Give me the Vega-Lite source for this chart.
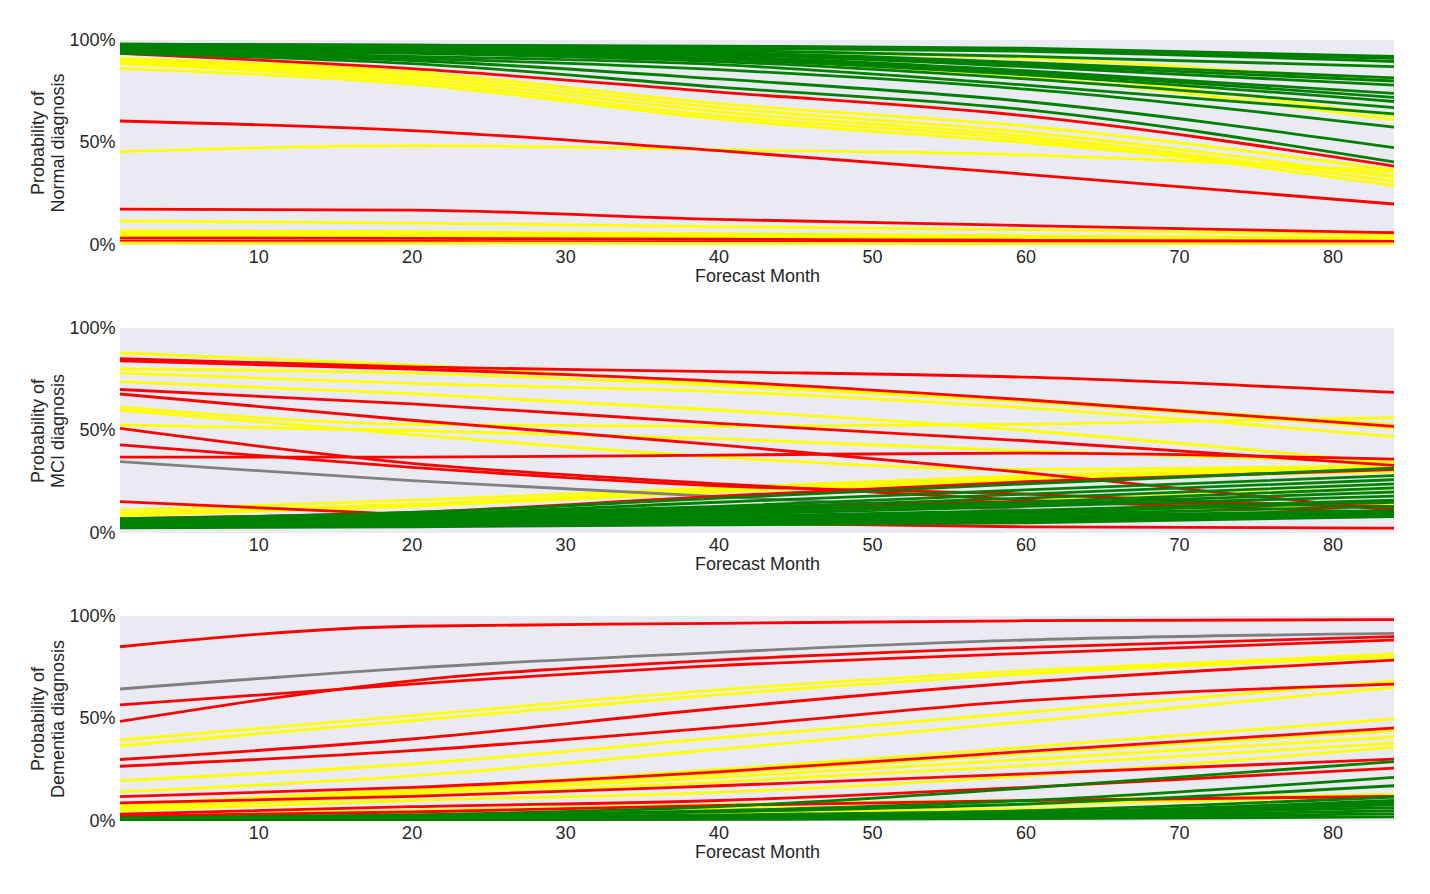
{
  "$schema": "https://vega.github.io/schema/vega-lite/v6.json",
  "background": "white",
  "padding": {"left": 29, "top": 31, "right": 30, "bottom": 5},
  "config": {
    "font": "Liberation Sans",
    "view": {"fill": "#EAEAF2", "stroke": null},
    "axis": {
      "domain": false, "ticks": false, "grid": false,
      "labelFontSize": 18, "titleFontSize": 18,
      "labelColor": "#262626", "titleColor": "#262626",
      "titleFontWeight": "normal", "labelPadding": 3, "titlePadding": 1
    },
    "axisY": {"labelPadding": 5}
  },
  "data": {"values": [
    {"p":"N","id":"y1","dx":"MCI","m":1,"v":97.5},{"p":"N","id":"y1","dx":"MCI","m":20,"v":97},{"p":"N","id":"y1","dx":"MCI","m":40,"v":95},{"p":"N","id":"y1","dx":"MCI","m":60,"v":91},{"p":"N","id":"y1","dx":"MCI","m":84,"v":80},
    {"p":"N","id":"y2","dx":"MCI","m":1,"v":97},{"p":"N","id":"y2","dx":"MCI","m":20,"v":95.5},{"p":"N","id":"y2","dx":"MCI","m":40,"v":92},{"p":"N","id":"y2","dx":"MCI","m":60,"v":84},{"p":"N","id":"y2","dx":"MCI","m":84,"v":63},
    {"p":"N","id":"y3","dx":"MCI","m":1,"v":96.5},{"p":"N","id":"y3","dx":"MCI","m":20,"v":94},{"p":"N","id":"y3","dx":"MCI","m":40,"v":90},{"p":"N","id":"y3","dx":"MCI","m":60,"v":82},{"p":"N","id":"y3","dx":"MCI","m":84,"v":61},
    {"p":"N","id":"y4","dx":"MCI","m":1,"v":91},{"p":"N","id":"y4","dx":"MCI","m":20,"v":84.5},{"p":"N","id":"y4","dx":"MCI","m":40,"v":69},{"p":"N","id":"y4","dx":"MCI","m":60,"v":58},{"p":"N","id":"y4","dx":"MCI","m":84,"v":36.5},
    {"p":"N","id":"y5","dx":"MCI","m":1,"v":90},{"p":"N","id":"y5","dx":"MCI","m":20,"v":83},{"p":"N","id":"y5","dx":"MCI","m":40,"v":67},{"p":"N","id":"y5","dx":"MCI","m":60,"v":55},{"p":"N","id":"y5","dx":"MCI","m":84,"v":33},
    {"p":"N","id":"y6","dx":"MCI","m":1,"v":89.5},{"p":"N","id":"y6","dx":"MCI","m":20,"v":81.5},{"p":"N","id":"y6","dx":"MCI","m":40,"v":65},{"p":"N","id":"y6","dx":"MCI","m":60,"v":53},{"p":"N","id":"y6","dx":"MCI","m":84,"v":31},
    {"p":"N","id":"y7","dx":"MCI","m":1,"v":88.5},{"p":"N","id":"y7","dx":"MCI","m":20,"v":80},{"p":"N","id":"y7","dx":"MCI","m":40,"v":63},{"p":"N","id":"y7","dx":"MCI","m":60,"v":51.5},{"p":"N","id":"y7","dx":"MCI","m":84,"v":29},
    {"p":"N","id":"y8","dx":"MCI","m":1,"v":86},{"p":"N","id":"y8","dx":"MCI","m":20,"v":78.5},{"p":"N","id":"y8","dx":"MCI","m":40,"v":61.5},{"p":"N","id":"y8","dx":"MCI","m":60,"v":50},{"p":"N","id":"y8","dx":"MCI","m":84,"v":34},
    {"p":"N","id":"y9","dx":"MCI","m":1,"v":45.5},{"p":"N","id":"y9","dx":"MCI","m":20,"v":48.5},{"p":"N","id":"y9","dx":"MCI","m":40,"v":46.5},{"p":"N","id":"y9","dx":"MCI","m":60,"v":44},{"p":"N","id":"y9","dx":"MCI","m":84,"v":36},
    {"p":"N","id":"y10","dx":"MCI","m":1,"v":11.7},{"p":"N","id":"y10","dx":"MCI","m":20,"v":10.7},{"p":"N","id":"y10","dx":"MCI","m":40,"v":9},{"p":"N","id":"y10","dx":"MCI","m":60,"v":7.5},{"p":"N","id":"y10","dx":"MCI","m":84,"v":5},
    {"p":"N","id":"y11","dx":"MCI","m":1,"v":7},{"p":"N","id":"y11","dx":"MCI","m":20,"v":6.5},{"p":"N","id":"y11","dx":"MCI","m":40,"v":5.5},{"p":"N","id":"y11","dx":"MCI","m":60,"v":4.5},{"p":"N","id":"y11","dx":"MCI","m":84,"v":3.5},
    {"p":"N","id":"y12","dx":"MCI","m":1,"v":6},{"p":"N","id":"y12","dx":"MCI","m":20,"v":5.5},{"p":"N","id":"y12","dx":"MCI","m":40,"v":4.5},{"p":"N","id":"y12","dx":"MCI","m":60,"v":3.8},{"p":"N","id":"y12","dx":"MCI","m":84,"v":2.8},
    {"p":"N","id":"y13","dx":"MCI","m":1,"v":5},{"p":"N","id":"y13","dx":"MCI","m":20,"v":4.5},{"p":"N","id":"y13","dx":"MCI","m":40,"v":3.8},{"p":"N","id":"y13","dx":"MCI","m":60,"v":3},{"p":"N","id":"y13","dx":"MCI","m":84,"v":2.2},
    {"p":"N","id":"y14","dx":"MCI","m":1,"v":4.2},{"p":"N","id":"y14","dx":"MCI","m":20,"v":4},{"p":"N","id":"y14","dx":"MCI","m":40,"v":3.2},{"p":"N","id":"y14","dx":"MCI","m":60,"v":2.6},{"p":"N","id":"y14","dx":"MCI","m":84,"v":1.8},
    {"p":"N","id":"r4","dx":"AD","m":1,"v":3.4},{"p":"N","id":"r4","dx":"AD","m":20,"v":3.2},{"p":"N","id":"r4","dx":"AD","m":40,"v":2.8},{"p":"N","id":"r4","dx":"AD","m":60,"v":2.3},{"p":"N","id":"r4","dx":"AD","m":84,"v":1.8},
    {"p":"N","id":"r5","dx":"AD","m":1,"v":1.8},{"p":"N","id":"r5","dx":"AD","m":20,"v":1.7},{"p":"N","id":"r5","dx":"AD","m":40,"v":1.5},{"p":"N","id":"r5","dx":"AD","m":60,"v":1.3},{"p":"N","id":"r5","dx":"AD","m":84,"v":1.1},
    {"p":"N","id":"y15","dx":"MCI","m":1,"v":1},{"p":"N","id":"y15","dx":"MCI","m":20,"v":0.9},{"p":"N","id":"y15","dx":"MCI","m":40,"v":0.8},{"p":"N","id":"y15","dx":"MCI","m":60,"v":0.7},{"p":"N","id":"y15","dx":"MCI","m":84,"v":0.5},
    {"p":"N","id":"r1","dx":"AD","m":1,"v":93.5},{"p":"N","id":"r1","dx":"AD","m":20,"v":86},{"p":"N","id":"r1","dx":"AD","m":40,"v":74.6},{"p":"N","id":"r1","dx":"AD","m":60,"v":63},{"p":"N","id":"r1","dx":"AD","m":84,"v":38.5},
    {"p":"N","id":"r2","dx":"AD","m":1,"v":60.5},{"p":"N","id":"r2","dx":"AD","m":20,"v":55.8},{"p":"N","id":"r2","dx":"AD","m":40,"v":46},{"p":"N","id":"r2","dx":"AD","m":60,"v":34.5},{"p":"N","id":"r2","dx":"AD","m":84,"v":20},
    {"p":"N","id":"r3","dx":"AD","m":1,"v":17.5},{"p":"N","id":"r3","dx":"AD","m":20,"v":17},{"p":"N","id":"r3","dx":"AD","m":40,"v":12.5},{"p":"N","id":"r3","dx":"AD","m":60,"v":9.5},{"p":"N","id":"r3","dx":"AD","m":84,"v":6},
    {"p":"N","id":"g1","dx":"CN","m":1,"v":98},{"p":"N","id":"g1","dx":"CN","m":20,"v":97.5},{"p":"N","id":"g1","dx":"CN","m":40,"v":97},{"p":"N","id":"g1","dx":"CN","m":60,"v":96},{"p":"N","id":"g1","dx":"CN","m":84,"v":92},
    {"p":"N","id":"g2","dx":"CN","m":1,"v":98},{"p":"N","id":"g2","dx":"CN","m":20,"v":97.5},{"p":"N","id":"g2","dx":"CN","m":40,"v":96.5},{"p":"N","id":"g2","dx":"CN","m":60,"v":95},{"p":"N","id":"g2","dx":"CN","m":84,"v":91},
    {"p":"N","id":"g3","dx":"CN","m":1,"v":97.5},{"p":"N","id":"g3","dx":"CN","m":20,"v":97},{"p":"N","id":"g3","dx":"CN","m":40,"v":96},{"p":"N","id":"g3","dx":"CN","m":60,"v":94.5},{"p":"N","id":"g3","dx":"CN","m":84,"v":89.5},
    {"p":"N","id":"g4","dx":"CN","m":1,"v":97.5},{"p":"N","id":"g4","dx":"CN","m":20,"v":96.5},{"p":"N","id":"g4","dx":"CN","m":40,"v":95},{"p":"N","id":"g4","dx":"CN","m":60,"v":92},{"p":"N","id":"g4","dx":"CN","m":84,"v":87},
    {"p":"N","id":"g5","dx":"CN","m":1,"v":97},{"p":"N","id":"g5","dx":"CN","m":20,"v":96},{"p":"N","id":"g5","dx":"CN","m":40,"v":94},{"p":"N","id":"g5","dx":"CN","m":60,"v":89},{"p":"N","id":"g5","dx":"CN","m":84,"v":81.5},
    {"p":"N","id":"g6","dx":"CN","m":1,"v":97},{"p":"N","id":"g6","dx":"CN","m":20,"v":96},{"p":"N","id":"g6","dx":"CN","m":40,"v":93.5},{"p":"N","id":"g6","dx":"CN","m":60,"v":88},{"p":"N","id":"g6","dx":"CN","m":84,"v":80},
    {"p":"N","id":"g7","dx":"CN","m":1,"v":96.5},{"p":"N","id":"g7","dx":"CN","m":20,"v":95.5},{"p":"N","id":"g7","dx":"CN","m":40,"v":93},{"p":"N","id":"g7","dx":"CN","m":60,"v":87},{"p":"N","id":"g7","dx":"CN","m":84,"v":78},
    {"p":"N","id":"g8","dx":"CN","m":1,"v":96},{"p":"N","id":"g8","dx":"CN","m":20,"v":95},{"p":"N","id":"g8","dx":"CN","m":40,"v":92},{"p":"N","id":"g8","dx":"CN","m":60,"v":85},{"p":"N","id":"g8","dx":"CN","m":84,"v":74},
    {"p":"N","id":"g9","dx":"CN","m":1,"v":96},{"p":"N","id":"g9","dx":"CN","m":20,"v":94.5},{"p":"N","id":"g9","dx":"CN","m":40,"v":91},{"p":"N","id":"g9","dx":"CN","m":60,"v":84},{"p":"N","id":"g9","dx":"CN","m":84,"v":72},
    {"p":"N","id":"g10","dx":"CN","m":1,"v":95.5},{"p":"N","id":"g10","dx":"CN","m":20,"v":94},{"p":"N","id":"g10","dx":"CN","m":40,"v":90.5},{"p":"N","id":"g10","dx":"CN","m":60,"v":83},{"p":"N","id":"g10","dx":"CN","m":84,"v":70},
    {"p":"N","id":"g11","dx":"CN","m":1,"v":95},{"p":"N","id":"g11","dx":"CN","m":20,"v":93.5},{"p":"N","id":"g11","dx":"CN","m":40,"v":89.5},{"p":"N","id":"g11","dx":"CN","m":60,"v":81},{"p":"N","id":"g11","dx":"CN","m":84,"v":67},
    {"p":"N","id":"g12","dx":"CN","m":1,"v":95},{"p":"N","id":"g12","dx":"CN","m":20,"v":92},{"p":"N","id":"g12","dx":"CN","m":40,"v":88},{"p":"N","id":"g12","dx":"CN","m":60,"v":78},{"p":"N","id":"g12","dx":"CN","m":84,"v":64},
    {"p":"N","id":"g13","dx":"CN","m":1,"v":94},{"p":"N","id":"g13","dx":"CN","m":20,"v":91},{"p":"N","id":"g13","dx":"CN","m":40,"v":85.5},{"p":"N","id":"g13","dx":"CN","m":60,"v":76},{"p":"N","id":"g13","dx":"CN","m":84,"v":57.5},
    {"p":"N","id":"g14","dx":"CN","m":1,"v":94},{"p":"N","id":"g14","dx":"CN","m":20,"v":90},{"p":"N","id":"g14","dx":"CN","m":40,"v":81},{"p":"N","id":"g14","dx":"CN","m":60,"v":70},{"p":"N","id":"g14","dx":"CN","m":84,"v":47.5},
    {"p":"N","id":"g15","dx":"CN","m":1,"v":93.5},{"p":"N","id":"g15","dx":"CN","m":20,"v":88.5},{"p":"N","id":"g15","dx":"CN","m":40,"v":77},{"p":"N","id":"g15","dx":"CN","m":60,"v":66},{"p":"N","id":"g15","dx":"CN","m":84,"v":40.5},

    {"p":"M","id":"y1","dx":"MCI","m":1,"v":87.8},{"p":"M","id":"y1","dx":"MCI","m":20,"v":82},{"p":"M","id":"y1","dx":"MCI","m":40,"v":73},{"p":"M","id":"y1","dx":"MCI","m":60,"v":65},{"p":"M","id":"y1","dx":"MCI","m":84,"v":52.7},
    {"p":"M","id":"y2","dx":"MCI","m":1,"v":80},{"p":"M","id":"y2","dx":"MCI","m":20,"v":78},{"p":"M","id":"y2","dx":"MCI","m":40,"v":72},{"p":"M","id":"y2","dx":"MCI","m":60,"v":64},{"p":"M","id":"y2","dx":"MCI","m":84,"v":51.2},
    {"p":"M","id":"y3","dx":"MCI","m":1,"v":78},{"p":"M","id":"y3","dx":"MCI","m":20,"v":73},{"p":"M","id":"y3","dx":"MCI","m":40,"v":69},{"p":"M","id":"y3","dx":"MCI","m":60,"v":61},{"p":"M","id":"y3","dx":"MCI","m":84,"v":47},
    {"p":"M","id":"y4","dx":"MCI","m":1,"v":73.8},{"p":"M","id":"y4","dx":"MCI","m":20,"v":68},{"p":"M","id":"y4","dx":"MCI","m":40,"v":60},{"p":"M","id":"y4","dx":"MCI","m":60,"v":50},{"p":"M","id":"y4","dx":"MCI","m":84,"v":34},
    {"p":"M","id":"y5","dx":"MCI","m":1,"v":61.5},{"p":"M","id":"y5","dx":"MCI","m":20,"v":53},{"p":"M","id":"y5","dx":"MCI","m":40,"v":52},{"p":"M","id":"y5","dx":"MCI","m":60,"v":53},{"p":"M","id":"y5","dx":"MCI","m":84,"v":56.3},
    {"p":"M","id":"y6","dx":"MCI","m":1,"v":60},{"p":"M","id":"y6","dx":"MCI","m":20,"v":48},{"p":"M","id":"y6","dx":"MCI","m":40,"v":37},{"p":"M","id":"y6","dx":"MCI","m":60,"v":31},{"p":"M","id":"y6","dx":"MCI","m":84,"v":33},
    {"p":"M","id":"y7","dx":"MCI","m":1,"v":52.7},{"p":"M","id":"y7","dx":"MCI","m":20,"v":50},{"p":"M","id":"y7","dx":"MCI","m":40,"v":46},{"p":"M","id":"y7","dx":"MCI","m":60,"v":40},{"p":"M","id":"y7","dx":"MCI","m":84,"v":34.5},
    {"p":"M","id":"y8","dx":"MCI","m":1,"v":11},{"p":"M","id":"y8","dx":"MCI","m":20,"v":16},{"p":"M","id":"y8","dx":"MCI","m":40,"v":22},{"p":"M","id":"y8","dx":"MCI","m":60,"v":28},{"p":"M","id":"y8","dx":"MCI","m":84,"v":33},
    {"p":"M","id":"y9","dx":"MCI","m":1,"v":9.5},{"p":"M","id":"y9","dx":"MCI","m":20,"v":14},{"p":"M","id":"y9","dx":"MCI","m":40,"v":21},{"p":"M","id":"y9","dx":"MCI","m":60,"v":27},{"p":"M","id":"y9","dx":"MCI","m":84,"v":32},
    {"p":"M","id":"y10","dx":"MCI","m":1,"v":8.5},{"p":"M","id":"y10","dx":"MCI","m":20,"v":13},{"p":"M","id":"y10","dx":"MCI","m":40,"v":20},{"p":"M","id":"y10","dx":"MCI","m":60,"v":26},{"p":"M","id":"y10","dx":"MCI","m":84,"v":30},
    {"p":"M","id":"y11","dx":"MCI","m":1,"v":6},{"p":"M","id":"y11","dx":"MCI","m":20,"v":8},{"p":"M","id":"y11","dx":"MCI","m":40,"v":12},{"p":"M","id":"y11","dx":"MCI","m":60,"v":16},{"p":"M","id":"y11","dx":"MCI","m":84,"v":22},
    {"p":"M","id":"y12","dx":"MCI","m":1,"v":5},{"p":"M","id":"y12","dx":"MCI","m":20,"v":6},{"p":"M","id":"y12","dx":"MCI","m":40,"v":8},{"p":"M","id":"y12","dx":"MCI","m":60,"v":10},{"p":"M","id":"y12","dx":"MCI","m":84,"v":14},
    {"p":"M","id":"x1","dx":"NA","m":1,"v":34.8},{"p":"M","id":"x1","dx":"NA","m":20,"v":25.5},{"p":"M","id":"x1","dx":"NA","m":40,"v":17.7},{"p":"M","id":"x1","dx":"NA","m":60,"v":11.2},{"p":"M","id":"x1","dx":"NA","m":84,"v":8},
    {"p":"M","id":"r1","dx":"AD","m":1,"v":85},{"p":"M","id":"r1","dx":"AD","m":20,"v":81},{"p":"M","id":"r1","dx":"AD","m":40,"v":78.7},{"p":"M","id":"r1","dx":"AD","m":60,"v":76},{"p":"M","id":"r1","dx":"AD","m":84,"v":68.6},
    {"p":"M","id":"r2","dx":"AD","m":1,"v":84},{"p":"M","id":"r2","dx":"AD","m":20,"v":80},{"p":"M","id":"r2","dx":"AD","m":40,"v":74},{"p":"M","id":"r2","dx":"AD","m":60,"v":65},{"p":"M","id":"r2","dx":"AD","m":84,"v":52},
    {"p":"M","id":"r3","dx":"AD","m":1,"v":70},{"p":"M","id":"r3","dx":"AD","m":20,"v":63},{"p":"M","id":"r3","dx":"AD","m":40,"v":53.5},{"p":"M","id":"r3","dx":"AD","m":60,"v":45},{"p":"M","id":"r3","dx":"AD","m":84,"v":33},
    {"p":"M","id":"r4","dx":"AD","m":1,"v":67.8},{"p":"M","id":"r4","dx":"AD","m":20,"v":55},{"p":"M","id":"r4","dx":"AD","m":40,"v":43},{"p":"M","id":"r4","dx":"AD","m":60,"v":29.5},{"p":"M","id":"r4","dx":"AD","m":84,"v":11},
    {"p":"M","id":"r5","dx":"AD","m":1,"v":37},{"p":"M","id":"r5","dx":"AD","m":20,"v":37},{"p":"M","id":"r5","dx":"AD","m":40,"v":38},{"p":"M","id":"r5","dx":"AD","m":60,"v":39},{"p":"M","id":"r5","dx":"AD","m":84,"v":36},
    {"p":"M","id":"r6","dx":"AD","m":1,"v":51},{"p":"M","id":"r6","dx":"AD","m":20,"v":34},{"p":"M","id":"r6","dx":"AD","m":40,"v":24},{"p":"M","id":"r6","dx":"AD","m":60,"v":16},{"p":"M","id":"r6","dx":"AD","m":84,"v":10},
    {"p":"M","id":"r7","dx":"AD","m":1,"v":43},{"p":"M","id":"r7","dx":"AD","m":20,"v":32},{"p":"M","id":"r7","dx":"AD","m":40,"v":23},{"p":"M","id":"r7","dx":"AD","m":60,"v":19},{"p":"M","id":"r7","dx":"AD","m":84,"v":12},
    {"p":"M","id":"r8","dx":"AD","m":1,"v":15.3},{"p":"M","id":"r8","dx":"AD","m":20,"v":9},{"p":"M","id":"r8","dx":"AD","m":40,"v":5},{"p":"M","id":"r8","dx":"AD","m":60,"v":3},{"p":"M","id":"r8","dx":"AD","m":84,"v":2.4},
    {"p":"M","id":"r9","dx":"AD","m":1,"v":7},{"p":"M","id":"r9","dx":"AD","m":20,"v":10},{"p":"M","id":"r9","dx":"AD","m":40,"v":18},{"p":"M","id":"r9","dx":"AD","m":60,"v":25},{"p":"M","id":"r9","dx":"AD","m":84,"v":31},
    {"p":"M","id":"r10","dx":"AD","m":1,"v":6},{"p":"M","id":"r10","dx":"AD","m":20,"v":7},{"p":"M","id":"r10","dx":"AD","m":40,"v":12},{"p":"M","id":"r10","dx":"AD","m":60,"v":15},{"p":"M","id":"r10","dx":"AD","m":84,"v":13},
    {"p":"M","id":"g1","dx":"CN","m":1,"v":7},{"p":"M","id":"g1","dx":"CN","m":20,"v":10},{"p":"M","id":"g1","dx":"CN","m":40,"v":17},{"p":"M","id":"g1","dx":"CN","m":60,"v":24},{"p":"M","id":"g1","dx":"CN","m":84,"v":31.7},
    {"p":"M","id":"g2","dx":"CN","m":1,"v":6.5},{"p":"M","id":"g2","dx":"CN","m":20,"v":9},{"p":"M","id":"g2","dx":"CN","m":40,"v":15},{"p":"M","id":"g2","dx":"CN","m":60,"v":21},{"p":"M","id":"g2","dx":"CN","m":84,"v":28},
    {"p":"M","id":"g3","dx":"CN","m":1,"v":6},{"p":"M","id":"g3","dx":"CN","m":20,"v":8.5},{"p":"M","id":"g3","dx":"CN","m":40,"v":13},{"p":"M","id":"g3","dx":"CN","m":60,"v":19},{"p":"M","id":"g3","dx":"CN","m":84,"v":26},
    {"p":"M","id":"g4","dx":"CN","m":1,"v":6},{"p":"M","id":"g4","dx":"CN","m":20,"v":8},{"p":"M","id":"g4","dx":"CN","m":40,"v":12},{"p":"M","id":"g4","dx":"CN","m":60,"v":17},{"p":"M","id":"g4","dx":"CN","m":84,"v":24},
    {"p":"M","id":"g5","dx":"CN","m":1,"v":5.5},{"p":"M","id":"g5","dx":"CN","m":20,"v":7.5},{"p":"M","id":"g5","dx":"CN","m":40,"v":11},{"p":"M","id":"g5","dx":"CN","m":60,"v":15},{"p":"M","id":"g5","dx":"CN","m":84,"v":22},
    {"p":"M","id":"g6","dx":"CN","m":1,"v":5},{"p":"M","id":"g6","dx":"CN","m":20,"v":7},{"p":"M","id":"g6","dx":"CN","m":40,"v":10},{"p":"M","id":"g6","dx":"CN","m":60,"v":14},{"p":"M","id":"g6","dx":"CN","m":84,"v":20},
    {"p":"M","id":"g7","dx":"CN","m":1,"v":5},{"p":"M","id":"g7","dx":"CN","m":20,"v":6.5},{"p":"M","id":"g7","dx":"CN","m":40,"v":9},{"p":"M","id":"g7","dx":"CN","m":60,"v":13},{"p":"M","id":"g7","dx":"CN","m":84,"v":18},
    {"p":"M","id":"g8","dx":"CN","m":1,"v":4.5},{"p":"M","id":"g8","dx":"CN","m":20,"v":6},{"p":"M","id":"g8","dx":"CN","m":40,"v":8},{"p":"M","id":"g8","dx":"CN","m":60,"v":11},{"p":"M","id":"g8","dx":"CN","m":84,"v":16},
    {"p":"M","id":"g9","dx":"CN","m":1,"v":4},{"p":"M","id":"g9","dx":"CN","m":20,"v":5.5},{"p":"M","id":"g9","dx":"CN","m":40,"v":7.5},{"p":"M","id":"g9","dx":"CN","m":60,"v":10},{"p":"M","id":"g9","dx":"CN","m":84,"v":15},
    {"p":"M","id":"g10","dx":"CN","m":1,"v":4},{"p":"M","id":"g10","dx":"CN","m":20,"v":5},{"p":"M","id":"g10","dx":"CN","m":40,"v":7},{"p":"M","id":"g10","dx":"CN","m":60,"v":9},{"p":"M","id":"g10","dx":"CN","m":84,"v":13},
    {"p":"M","id":"g11","dx":"CN","m":1,"v":3.5},{"p":"M","id":"g11","dx":"CN","m":20,"v":4.5},{"p":"M","id":"g11","dx":"CN","m":40,"v":6},{"p":"M","id":"g11","dx":"CN","m":60,"v":8},{"p":"M","id":"g11","dx":"CN","m":84,"v":11},
    {"p":"M","id":"g12","dx":"CN","m":1,"v":3},{"p":"M","id":"g12","dx":"CN","m":20,"v":4},{"p":"M","id":"g12","dx":"CN","m":40,"v":5},{"p":"M","id":"g12","dx":"CN","m":60,"v":7},{"p":"M","id":"g12","dx":"CN","m":84,"v":10},
    {"p":"M","id":"g13","dx":"CN","m":1,"v":3},{"p":"M","id":"g13","dx":"CN","m":20,"v":3.5},{"p":"M","id":"g13","dx":"CN","m":40,"v":4.5},{"p":"M","id":"g13","dx":"CN","m":60,"v":6},{"p":"M","id":"g13","dx":"CN","m":84,"v":9},
    {"p":"M","id":"g14","dx":"CN","m":1,"v":2.5},{"p":"M","id":"g14","dx":"CN","m":20,"v":3},{"p":"M","id":"g14","dx":"CN","m":40,"v":4},{"p":"M","id":"g14","dx":"CN","m":60,"v":5},{"p":"M","id":"g14","dx":"CN","m":84,"v":8},

    {"p":"D","id":"y1","dx":"MCI","m":1,"v":39.5},{"p":"D","id":"y1","dx":"MCI","m":20,"v":51.4},{"p":"D","id":"y1","dx":"MCI","m":40,"v":64},{"p":"D","id":"y1","dx":"MCI","m":60,"v":73.3},{"p":"D","id":"y1","dx":"MCI","m":84,"v":81.5},
    {"p":"D","id":"y2","dx":"MCI","m":1,"v":36.7},{"p":"D","id":"y2","dx":"MCI","m":20,"v":49},{"p":"D","id":"y2","dx":"MCI","m":40,"v":61.6},{"p":"D","id":"y2","dx":"MCI","m":60,"v":71.7},{"p":"D","id":"y2","dx":"MCI","m":84,"v":80},
    {"p":"D","id":"y3","dx":"MCI","m":1,"v":19.7},{"p":"D","id":"y3","dx":"MCI","m":20,"v":27.8},{"p":"D","id":"y3","dx":"MCI","m":40,"v":40.5},{"p":"D","id":"y3","dx":"MCI","m":60,"v":53},{"p":"D","id":"y3","dx":"MCI","m":84,"v":68.4},
    {"p":"D","id":"y4","dx":"MCI","m":1,"v":14.3},{"p":"D","id":"y4","dx":"MCI","m":20,"v":22},{"p":"D","id":"y4","dx":"MCI","m":40,"v":35},{"p":"D","id":"y4","dx":"MCI","m":60,"v":48.4},{"p":"D","id":"y4","dx":"MCI","m":84,"v":65.2},
    {"p":"D","id":"y5","dx":"MCI","m":1,"v":8},{"p":"D","id":"y5","dx":"MCI","m":20,"v":15.5},{"p":"D","id":"y5","dx":"MCI","m":40,"v":25},{"p":"D","id":"y5","dx":"MCI","m":60,"v":36},{"p":"D","id":"y5","dx":"MCI","m":84,"v":49.8},
    {"p":"D","id":"y6","dx":"MCI","m":1,"v":7.5},{"p":"D","id":"y6","dx":"MCI","m":20,"v":14.5},{"p":"D","id":"y6","dx":"MCI","m":40,"v":23},{"p":"D","id":"y6","dx":"MCI","m":60,"v":33},{"p":"D","id":"y6","dx":"MCI","m":84,"v":44},
    {"p":"D","id":"y7","dx":"MCI","m":1,"v":7},{"p":"D","id":"y7","dx":"MCI","m":20,"v":13.5},{"p":"D","id":"y7","dx":"MCI","m":40,"v":21.3},{"p":"D","id":"y7","dx":"MCI","m":60,"v":30},{"p":"D","id":"y7","dx":"MCI","m":84,"v":41},
    {"p":"D","id":"y8","dx":"MCI","m":1,"v":6},{"p":"D","id":"y8","dx":"MCI","m":20,"v":12},{"p":"D","id":"y8","dx":"MCI","m":40,"v":19},{"p":"D","id":"y8","dx":"MCI","m":60,"v":27},{"p":"D","id":"y8","dx":"MCI","m":84,"v":38},
    {"p":"D","id":"y9","dx":"MCI","m":1,"v":5},{"p":"D","id":"y9","dx":"MCI","m":20,"v":10},{"p":"D","id":"y9","dx":"MCI","m":40,"v":14},{"p":"D","id":"y9","dx":"MCI","m":60,"v":22},{"p":"D","id":"y9","dx":"MCI","m":84,"v":36},
    {"p":"D","id":"y10","dx":"MCI","m":1,"v":3},{"p":"D","id":"y10","dx":"MCI","m":20,"v":5},{"p":"D","id":"y10","dx":"MCI","m":40,"v":8},{"p":"D","id":"y10","dx":"MCI","m":60,"v":10},{"p":"D","id":"y10","dx":"MCI","m":84,"v":13},
    {"p":"D","id":"y11","dx":"MCI","m":1,"v":2.5},{"p":"D","id":"y11","dx":"MCI","m":20,"v":4},{"p":"D","id":"y11","dx":"MCI","m":40,"v":6},{"p":"D","id":"y11","dx":"MCI","m":60,"v":8},{"p":"D","id":"y11","dx":"MCI","m":84,"v":12},
    {"p":"D","id":"y12","dx":"MCI","m":1,"v":2},{"p":"D","id":"y12","dx":"MCI","m":20,"v":3},{"p":"D","id":"y12","dx":"MCI","m":40,"v":4},{"p":"D","id":"y12","dx":"MCI","m":60,"v":5.9},{"p":"D","id":"y12","dx":"MCI","m":84,"v":8},
    {"p":"D","id":"x1","dx":"NA","m":1,"v":64.4},{"p":"D","id":"x1","dx":"NA","m":20,"v":74.6},{"p":"D","id":"x1","dx":"NA","m":40,"v":82.3},{"p":"D","id":"x1","dx":"NA","m":60,"v":88.3},{"p":"D","id":"x1","dx":"NA","m":84,"v":91.5},
    {"p":"D","id":"r1","dx":"AD","m":1,"v":85},{"p":"D","id":"r1","dx":"AD","m":20,"v":95},{"p":"D","id":"r1","dx":"AD","m":40,"v":96.4},{"p":"D","id":"r1","dx":"AD","m":60,"v":97.7},{"p":"D","id":"r1","dx":"AD","m":84,"v":98.2},
    {"p":"D","id":"r2","dx":"AD","m":1,"v":56.6},{"p":"D","id":"r2","dx":"AD","m":20,"v":66.8},{"p":"D","id":"r2","dx":"AD","m":40,"v":75.8},{"p":"D","id":"r2","dx":"AD","m":60,"v":81.8},{"p":"D","id":"r2","dx":"AD","m":84,"v":88.3},
    {"p":"D","id":"r3","dx":"AD","m":1,"v":48.6},{"p":"D","id":"r3","dx":"AD","m":20,"v":68.4},{"p":"D","id":"r3","dx":"AD","m":40,"v":78.5},{"p":"D","id":"r3","dx":"AD","m":60,"v":84.7},{"p":"D","id":"r3","dx":"AD","m":84,"v":90},
    {"p":"D","id":"r4","dx":"AD","m":1,"v":30},{"p":"D","id":"r4","dx":"AD","m":20,"v":40},{"p":"D","id":"r4","dx":"AD","m":40,"v":55},{"p":"D","id":"r4","dx":"AD","m":60,"v":67.7},{"p":"D","id":"r4","dx":"AD","m":84,"v":78.5},
    {"p":"D","id":"r5","dx":"AD","m":1,"v":26.7},{"p":"D","id":"r5","dx":"AD","m":20,"v":34.3},{"p":"D","id":"r5","dx":"AD","m":40,"v":45.7},{"p":"D","id":"r5","dx":"AD","m":60,"v":58.7},{"p":"D","id":"r5","dx":"AD","m":84,"v":66.8},
    {"p":"D","id":"r6","dx":"AD","m":1,"v":11.9},{"p":"D","id":"r6","dx":"AD","m":20,"v":16.4},{"p":"D","id":"r6","dx":"AD","m":40,"v":24},{"p":"D","id":"r6","dx":"AD","m":60,"v":34},{"p":"D","id":"r6","dx":"AD","m":84,"v":45.4},
    {"p":"D","id":"r7","dx":"AD","m":1,"v":8.8},{"p":"D","id":"r7","dx":"AD","m":20,"v":12},{"p":"D","id":"r7","dx":"AD","m":40,"v":17.2},{"p":"D","id":"r7","dx":"AD","m":60,"v":23},{"p":"D","id":"r7","dx":"AD","m":84,"v":30.2},
    {"p":"D","id":"r8","dx":"AD","m":1,"v":3.4},{"p":"D","id":"r8","dx":"AD","m":20,"v":7},{"p":"D","id":"r8","dx":"AD","m":40,"v":10},{"p":"D","id":"r8","dx":"AD","m":60,"v":16.4},{"p":"D","id":"r8","dx":"AD","m":84,"v":25.8},
    {"p":"D","id":"r9","dx":"AD","m":1,"v":2.5},{"p":"D","id":"r9","dx":"AD","m":20,"v":4.4},{"p":"D","id":"r9","dx":"AD","m":40,"v":7.6},{"p":"D","id":"r9","dx":"AD","m":60,"v":10},{"p":"D","id":"r9","dx":"AD","m":84,"v":12},
    {"p":"D","id":"g1","dx":"CN","m":1,"v":1.5},{"p":"D","id":"g1","dx":"CN","m":20,"v":3},{"p":"D","id":"g1","dx":"CN","m":40,"v":7},{"p":"D","id":"g1","dx":"CN","m":60,"v":16},{"p":"D","id":"g1","dx":"CN","m":84,"v":29},
    {"p":"D","id":"g2","dx":"CN","m":1,"v":1},{"p":"D","id":"g2","dx":"CN","m":20,"v":2},{"p":"D","id":"g2","dx":"CN","m":40,"v":5},{"p":"D","id":"g2","dx":"CN","m":60,"v":10},{"p":"D","id":"g2","dx":"CN","m":84,"v":21.3},
    {"p":"D","id":"g3","dx":"CN","m":1,"v":1},{"p":"D","id":"g3","dx":"CN","m":20,"v":2},{"p":"D","id":"g3","dx":"CN","m":40,"v":4.5},{"p":"D","id":"g3","dx":"CN","m":60,"v":8.3},{"p":"D","id":"g3","dx":"CN","m":84,"v":17.2},
    {"p":"D","id":"g4","dx":"CN","m":1,"v":1},{"p":"D","id":"g4","dx":"CN","m":20,"v":1.5},{"p":"D","id":"g4","dx":"CN","m":40,"v":3},{"p":"D","id":"g4","dx":"CN","m":60,"v":5},{"p":"D","id":"g4","dx":"CN","m":84,"v":11.7},
    {"p":"D","id":"g5","dx":"CN","m":1,"v":1},{"p":"D","id":"g5","dx":"CN","m":20,"v":1.5},{"p":"D","id":"g5","dx":"CN","m":40,"v":2.5},{"p":"D","id":"g5","dx":"CN","m":60,"v":4},{"p":"D","id":"g5","dx":"CN","m":84,"v":10},
    {"p":"D","id":"g6","dx":"CN","m":1,"v":0.8},{"p":"D","id":"g6","dx":"CN","m":20,"v":1.2},{"p":"D","id":"g6","dx":"CN","m":40,"v":2},{"p":"D","id":"g6","dx":"CN","m":60,"v":3.5},{"p":"D","id":"g6","dx":"CN","m":84,"v":9},
    {"p":"D","id":"g7","dx":"CN","m":1,"v":0.8},{"p":"D","id":"g7","dx":"CN","m":20,"v":1.2},{"p":"D","id":"g7","dx":"CN","m":40,"v":2},{"p":"D","id":"g7","dx":"CN","m":60,"v":3},{"p":"D","id":"g7","dx":"CN","m":84,"v":8},
    {"p":"D","id":"g8","dx":"CN","m":1,"v":0.6},{"p":"D","id":"g8","dx":"CN","m":20,"v":1},{"p":"D","id":"g8","dx":"CN","m":40,"v":1.5},{"p":"D","id":"g8","dx":"CN","m":60,"v":2.5},{"p":"D","id":"g8","dx":"CN","m":84,"v":6.5},
    {"p":"D","id":"g9","dx":"CN","m":1,"v":0.5},{"p":"D","id":"g9","dx":"CN","m":20,"v":0.8},{"p":"D","id":"g9","dx":"CN","m":40,"v":1.2},{"p":"D","id":"g9","dx":"CN","m":60,"v":2},{"p":"D","id":"g9","dx":"CN","m":84,"v":5},
    {"p":"D","id":"g10","dx":"CN","m":1,"v":0.5},{"p":"D","id":"g10","dx":"CN","m":20,"v":0.8},{"p":"D","id":"g10","dx":"CN","m":40,"v":1},{"p":"D","id":"g10","dx":"CN","m":60,"v":1.5},{"p":"D","id":"g10","dx":"CN","m":84,"v":3.5},
    {"p":"D","id":"g11","dx":"CN","m":1,"v":0.4},{"p":"D","id":"g11","dx":"CN","m":20,"v":0.6},{"p":"D","id":"g11","dx":"CN","m":40,"v":0.8},{"p":"D","id":"g11","dx":"CN","m":60,"v":1.2},{"p":"D","id":"g11","dx":"CN","m":84,"v":2}
  ]},
  "spacing": 34,
  "vconcat": [
    {
      "width": 1274, "height": 205,
      "transform": [{"filter": "datum.p === 'N'"}],
      "mark": {"type": "line", "interpolate": "monotone", "strokeWidth": 2.8, "clip": true},
      "encoding": {
        "x": {"field": "m", "type": "quantitative", "scale": {"domain": [1, 84], "nice": false, "zero": false},
              "axis": {"values": [10, 20, 30, 40, 50, 60, 70, 80], "title": "Forecast Month"}},
        "y": {"field": "v", "type": "quantitative", "scale": {"domain": [0, 100]},
              "axis": {"values": [0, 50, 100], "labelExpr": "datum.value + '%'", "title": ["Probability of", "Normal diagnosis"]}},
        "color": {"field": "dx", "type": "nominal", "scale": {"domain": ["CN", "MCI", "AD", "NA"], "range": ["#008000", "#FFFF00", "#FF0000", "#808080"]}, "legend": null},
        "detail": {"field": "id"}
      }
    },
    {
      "width": 1274, "height": 205,
      "transform": [{"filter": "datum.p === 'M'"}],
      "mark": {"type": "line", "interpolate": "monotone", "strokeWidth": 2.8, "clip": true},
      "encoding": {
        "x": {"field": "m", "type": "quantitative", "scale": {"domain": [1, 84], "nice": false, "zero": false},
              "axis": {"values": [10, 20, 30, 40, 50, 60, 70, 80], "title": "Forecast Month"}},
        "y": {"field": "v", "type": "quantitative", "scale": {"domain": [0, 100]},
              "axis": {"values": [0, 50, 100], "labelExpr": "datum.value + '%'", "title": ["Probability of", "MCI diagnosis"]}},
        "color": {"field": "dx", "type": "nominal", "scale": {"domain": ["CN", "MCI", "AD", "NA"], "range": ["#008000", "#FFFF00", "#FF0000", "#808080"]}, "legend": null},
        "detail": {"field": "id"}
      }
    },
    {
      "width": 1274, "height": 205,
      "transform": [{"filter": "datum.p === 'D'"}],
      "mark": {"type": "line", "interpolate": "monotone", "strokeWidth": 2.8, "clip": true},
      "encoding": {
        "x": {"field": "m", "type": "quantitative", "scale": {"domain": [1, 84], "nice": false, "zero": false},
              "axis": {"values": [10, 20, 30, 40, 50, 60, 70, 80], "title": "Forecast Month"}},
        "y": {"field": "v", "type": "quantitative", "scale": {"domain": [0, 100]},
              "axis": {"values": [0, 50, 100], "labelExpr": "datum.value + '%'", "title": ["Probability of", "Dementia diagnosis"]}},
        "color": {"field": "dx", "type": "nominal", "scale": {"domain": ["CN", "MCI", "AD", "NA"], "range": ["#008000", "#FFFF00", "#FF0000", "#808080"]}, "legend": null},
        "detail": {"field": "id"}
      }
    }
  ]
}
